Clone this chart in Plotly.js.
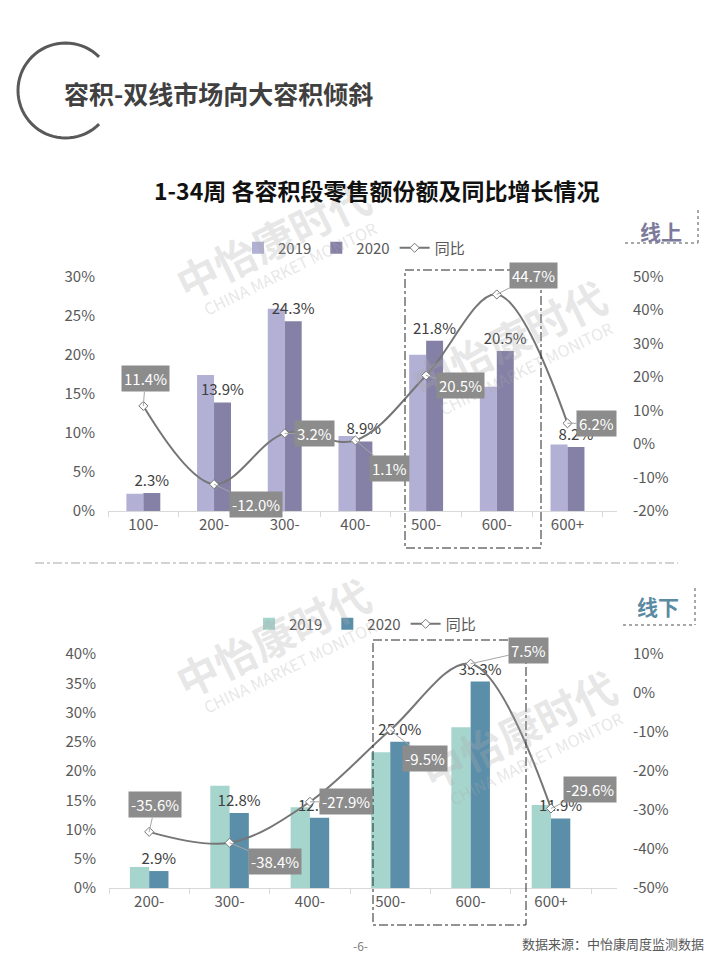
<!DOCTYPE html>
<html>
<head>
<meta charset="utf-8">
<script src="https://cdn.plot.ly/plotly-3.0.1.min.js"></script>
<style>html,body{margin:0;padding:0;background:#fff;}#chart{width:720px;height:960px;}</style>
</head>
<body>
<div id="chart"></div>
<script>
// ---------- data ----------
const catsOnline = ['100-', '200-', '300-', '400-', '500-', '600-', '600+'];
const online2019 = [2.2, 17.4, 25.9, 9.6, 20.0, 15.9, 8.5];
const online2020 = [2.3, 13.9, 24.3, 8.9, 21.8, 20.5, 8.2];
const onlineYoY  = [11.4, -12.0, 3.2, 1.1, 20.5, 44.7, 6.2];

const catsOffline = ['200-', '300-', '400-', '500-', '600-', '600+'];
const offline2019 = [3.6, 17.5, 13.8, 23.2, 27.5, 14.2];
const offline2020 = [2.9, 12.8, 12.0, 25.0, 35.3, 11.9];
const offlineYoY  = [-35.6, -38.4, -27.9, -9.5, 7.5, -29.6];

const seriesNames = ['2019', '2020', '同比'];
const leftTicksOnline = [0, 5, 10, 15, 20, 25, 30];
const rightTicksOnline = [-20, -10, 0, 10, 20, 30, 40, 50];
const leftTicksOffline = [0, 5, 10, 15, 20, 25, 30, 35, 40];
const rightTicksOffline = [-50, -40, -30, -20, -10, 0, 10];

// ---------- label placement (pixel offsets of the grey boxes) ----------
const onlineLabelDX = [2, 42, 30, 34, 34, 37, 29];
const onlineLabelDY = [-27, 20, 0, 28, 10, -19, 0];
const offlineLabelDX = [6, 45, 36, 35, 58, 39];
const offlineLabelDY = [-27, 19, 0, 28, -13, -19];

// ---------- helpers ----------
const W = 720, H = 960;
const px = x => x / W;
const py = y => 1 - y / H;
const pct = v => v.toFixed(1) + '%';
const FONT = '"Noto Sans CJK SC", "Noto Sans", sans-serif';
const TICKC = '#595959';

const cOn19 = '#b2b0d4', cOn20 = '#8581a6';
const cOff19 = '#a6d5cd', cOff20 = '#5b8ea9';
const lineC = '#767676';

function barTrace(x, y, name, color, xa, ya, leg, withText) {
  const t = {
    type: 'bar', x: x, y: y, name: name, xaxis: xa, yaxis: ya, legend: leg,
    marker: {color: color}, hoverinfo: 'skip'
  };
  if (withText) {
    t.text = y.map(pct);
    t.textposition = 'outside';
    t.constraintext = 'none';
    t.cliponaxis = false;
    t.textfont = {size: 15, color: '#404040', family: FONT};
  }
  return t;
}
function lineTrace(x, y, name, xa, ya, leg) {
  return {
    type: 'scatter', mode: 'lines+markers', x: x, y: y, name: name,
    xaxis: xa, yaxis: ya, legend: leg, cliponaxis: false,
    line: {color: lineC, width: 2, shape: 'spline', smoothing: 1},
    marker: {symbol: 'diamond', size: 7, color: '#ffffff', line: {color: lineC, width: 1}},
    hoverinfo: 'skip'
  };
}

const data = [
  barTrace(catsOnline, online2019, seriesNames[0], cOn19, 'x', 'y', 'legend', false),
  barTrace(catsOnline, online2020, seriesNames[1], cOn20, 'x', 'y', 'legend', true),
  lineTrace(catsOnline, onlineYoY, seriesNames[2], 'x', 'y2', 'legend'),
  barTrace(catsOffline, offline2019, seriesNames[0], cOff19, 'x2', 'y3', 'legend2', false),
  barTrace(catsOffline, offline2020, seriesNames[1], cOff20, 'x2', 'y3', 'legend2', true),
  lineTrace(catsOffline, offlineYoY, seriesNames[2], 'x2', 'y4', 'legend2')
];

const tickFont = {size: 15, color: TICKC, family: FONT};
function xAxis(domain, anchor) {
  return {
    domain: domain, anchor: anchor, type: 'category',
    showline: true, linecolor: '#d9d9d9', linewidth: 1,
    ticks: 'outside', ticklen: 5, tickcolor: '#d9d9d9', tickson: 'boundaries',
    showgrid: false, zeroline: false, tickfont: tickFont, fixedrange: true
  };
}
function yAxis(domain, anchor, range, ticks, side, overlay) {
  const a = {
    domain: domain, anchor: anchor, range: range, tickmode: 'array',
    tickvals: ticks, ticktext: ticks.map(v => v + '%'), side: side,
    showgrid: false, zeroline: false, showline: false, ticks: '',
    ticklabelstandoff: side === 'right' ? 15 : 12, tickfont: tickFont, fixedrange: true
  };
  if (overlay) a.overlaying = overlay;
  return a;
}

const topX = [px(108), px(617)];
const topY = [py(511), py(276.7)];
const botX = [px(109), px(617)];
const botY = [py(888), py(654)];

// ---------- annotations ----------
const ann = [];
function boxLabels(cats, vals, dx, dy, xa, ya) {
  cats.forEach((c, i) => {
    ann.push({
      x: c, y: vals[i], xref: xa, yref: ya, text: pct(vals[i]),
      showarrow: true, arrowhead: 0, arrowwidth: 1, arrowcolor: '#a6a6a6',
      ax: dx[i], ay: dy[i], standoff: 0,
      bgcolor: '#8c8c8c', borderpad: 2,
      font: {size: 15, color: '#ffffff', family: FONT}
    });
  });
}
boxLabels(catsOnline, onlineYoY, onlineLabelDX, onlineLabelDY, 'x', 'y2');
boxLabels(catsOffline, offlineYoY, offlineLabelDX, offlineLabelDY, 'x2', 'y4');

function txt(text, x, y, size, color, xanchor, extra) {
  const a = {
    text: text, x: px(x), y: py(y), xref: 'paper', yref: 'paper',
    xanchor: xanchor || 'center', yanchor: 'middle', showarrow: false,
    font: {size: size, color: color, family: FONT}
  };
  return Object.assign(a, extra || {});
}
// watermarks (drawn first so labels sit above them)
const wm = [];
[[272, 238], [508, 338], [272, 636], [518, 728]].forEach(p => {
  wm.push(txt('<b>中怡康时代</b>', p[0], p[1], 42, 'rgba(170,170,170,0.28)', 'center', {textangle: -26}));
  wm.push(txt('CHINA MARKET MONITOR', p[0] + 18, p[1] + 30, 16, 'rgba(170,170,170,0.3)', 'center', {textangle: -26}));
});

ann.unshift(...wm);
ann.push(txt('<b>容积-双线市场向大容积倾斜</b>', 62, 93, 25, '#404040', 'left'));
ann.push(txt('<b>1-34周 各容积段零售额份额及同比增长情况</b>', 376, 190, 23, '#111111'));
ann.push(txt('<b>线上</b>', 661, 231, 21, '#7d7a9c'));
ann.push(txt('<b>线下</b>', 658, 606, 21, '#5b8aa3'));
ann.push(txt('数据来源：中怡康周度监测数据', 706, 943, 13, '#595959', 'right'));
ann.push(txt('-6-', 360, 945, 12, '#7f7f7f'));

// ---------- shapes ----------
const arcPts = [];
for (let d = 45; d <= 315; d += 5) {
  const r = d * Math.PI / 180;
  arcPts.push([65.5 + 47.5 * Math.cos(r), 90.5 - 47.5 * Math.sin(r)]);
}
const arcPath = arcPts.map((p, i) => (i ? 'L' : 'M') + px(p[0]).toFixed(5) + ',' + py(p[1]).toFixed(5)).join(' ');

function seg(x0, y0, x1, y1, color, dash, width) {
  return {type: 'line', xref: 'paper', yref: 'paper', x0: px(x0), y0: py(y0), x1: px(x1), y1: py(y1),
          line: {color: color, width: width || 1, dash: dash}};
}
function rect(x0, y0, x1, y1) {
  return {type: 'rect', xref: 'paper', yref: 'paper', x0: px(x0), y0: py(y0), x1: px(x1), y1: py(y1),
          line: {color: '#262626', width: 1, dash: 'dashdot'}, fillcolor: 'rgba(0,0,0,0)'};
}
const shapes = [
  {type: 'path', xref: 'paper', yref: 'paper', path: arcPath, line: {color: '#595959', width: 3}},
  seg(698, 210, 698, 243, '#8c8c8c', 'dot', 1.5),
  seg(625, 243, 698, 243, '#8c8c8c', 'dot', 1.5),
  seg(695, 588, 695, 625, '#8c8c8c', 'dot', 1.5),
  seg(623, 625, 695, 625, '#8c8c8c', 'dot', 1.5),
  seg(35, 563, 678, 563, '#a6a6a6', 'dashdot', 1),
  rect(405, 270, 541, 548),
  rect(373, 640, 526, 925)
];

const legendBase = {
  orientation: 'h', xanchor: 'left', yanchor: 'middle', bgcolor: 'rgba(0,0,0,0)',
  font: {size: 15, color: TICKC, family: FONT}, itemclick: false, itemdoubleclick: false,
  tracegroupgap: 0
};

const layout = {
  width: W, height: H, margin: {l: 0, r: 0, t: 0, b: 0},
  paper_bgcolor: '#ffffff', plot_bgcolor: 'rgba(0,0,0,0)',
  font: {family: FONT, color: TICKC},
  barmode: 'group', bargap: 0.52, bargroupgap: 0,
  showlegend: true,
  legend: Object.assign({}, legendBase, {x: px(238), y: py(248)}),
  legend2: Object.assign({}, legendBase, {x: px(249), y: py(624)}),
  xaxis: xAxis(topX, 'y'),
  yaxis: yAxis(topY, 'x', [0, 30], leftTicksOnline, 'left'),
  yaxis2: yAxis(topY, 'x', [-20, 50], rightTicksOnline, 'right', 'y'),
  xaxis2: xAxis(botX, 'y3'),
  yaxis3: yAxis(botY, 'x2', [0, 40], leftTicksOffline, 'left'),
  yaxis4: yAxis(botY, 'x2', [-50, 10], rightTicksOffline, 'right', 'y3'),
  annotations: ann,
  shapes: shapes
};

Plotly.newPlot('chart', data, layout, {displayModeBar: false, staticPlot: true});
</script>
</body>
</html>
